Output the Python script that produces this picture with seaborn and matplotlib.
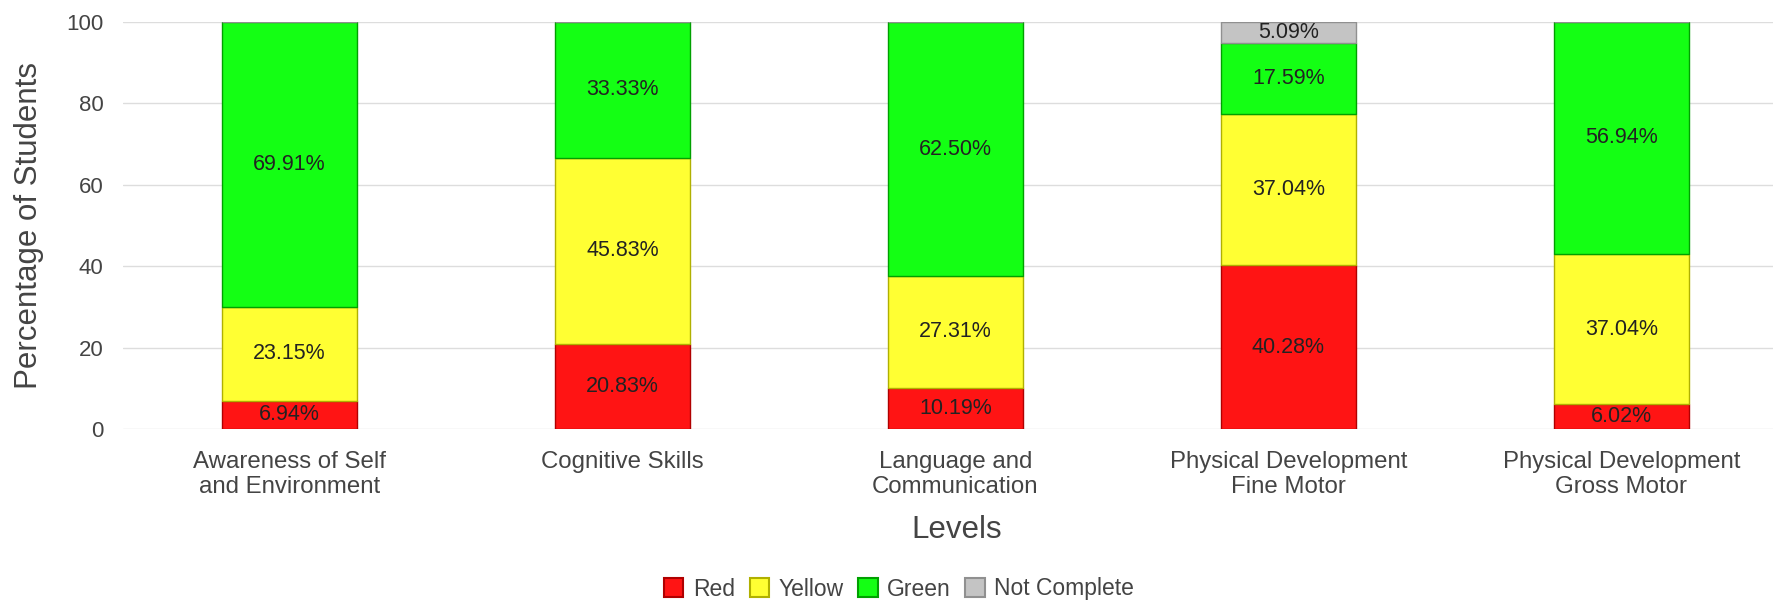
import matplotlib
matplotlib.use("Agg")
import matplotlib.pyplot as plt
import seaborn as sns
import numpy as np
from matplotlib.patches import Patch

categories = ["Awareness of Self\nand Environment", "Cognitive Skills",
              "Language and\nCommunication", "Physical Development\nFine Motor",
              "Physical Development\nGross Motor"]
series_names = ["Red", "Yellow", "Green", "Not Complete"]
red = [6.94, 20.83, 10.19, 40.28, 6.02]
yellow = [23.15, 45.83, 27.31, 37.04, 37.04]
green = [69.91, 33.33, 62.50, 17.59, 56.94]
not_complete = [0, 0, 0, 5.09, 0]
y_ticks = [0, 20, 40, 60, 80, 100]

fills = ["#ff1414", "#ffff33", "#14ff14", "#c4c4c4"]
edges = ["#b00000", "#b0b000", "#00a000", "#909090"]

sns.set_theme(style="white")
plt.rcParams['font.family'] = ['Liberation Sans', 'DejaVu Sans']

fig = plt.figure(figsize=(17.73, 6), dpi=100)
ax = fig.add_axes([123/1773, 1-429/600, 1-123/1773, (429-22)/600])

bottoms = np.zeros(len(categories))
for name, vals, fc, ec in zip(series_names, [red, yellow, green, not_complete], fills, edges):
    vals = np.array(vals, dtype=float)
    sns.barplot(x=categories, y=vals, bottom=bottoms, color=fc, width=0.405,
                edgecolor=ec, linewidth=1, saturation=1, ax=ax, zorder=3)
    for i, v in enumerate(vals):
        if v > 0:
            ax.text(i, bottoms[i] + v/2, f"{v:.2f}%", ha="center", va="center",
                    fontsize=15.5, color="#222222", zorder=4)
    bottoms += vals

ax.set_ylim(0, 100)
ax.set_xlim(-0.5, 4.455)
ax.set_yticks(y_ticks)
ax.yaxis.grid(True, color="#dddddd", linewidth=1, zorder=0)
ax.set_axisbelow(True)
for s in ax.spines.values():
    s.set_visible(False)
ax.tick_params(axis="y", length=0, labelsize=16, colors="#444444", pad=14)
ax.tick_params(axis="x", length=0, labelsize=17.3, colors="#444444", pad=16)
for t in ax.get_xticklabels():
    t.set_linespacing(1.15)
ax.set_ylabel("Percentage of Students", fontsize=22.5, color="#444444")
ax.yaxis.set_label_coords(-0.048, 0.5)
ax.set_xlabel("Levels", fontsize=22.5, color="#444444")
ax.xaxis.set_label_coords(0.505, -0.212)

handles = [Patch(facecolor=fc, edgecolor=ec, linewidth=1.5, label=n)
           for n, fc, ec in zip(series_names, fills, edges)]
fig.legend(handles=handles, loc="center", bbox_to_anchor=(899/1773, 1-589/600),
           ncol=4, frameon=False, fontsize=16.5, handlelength=0.85, handleheight=0.85,
           handletextpad=0.4, columnspacing=0.65, labelcolor="#444444")

fig.savefig("out.png", dpi=100)
